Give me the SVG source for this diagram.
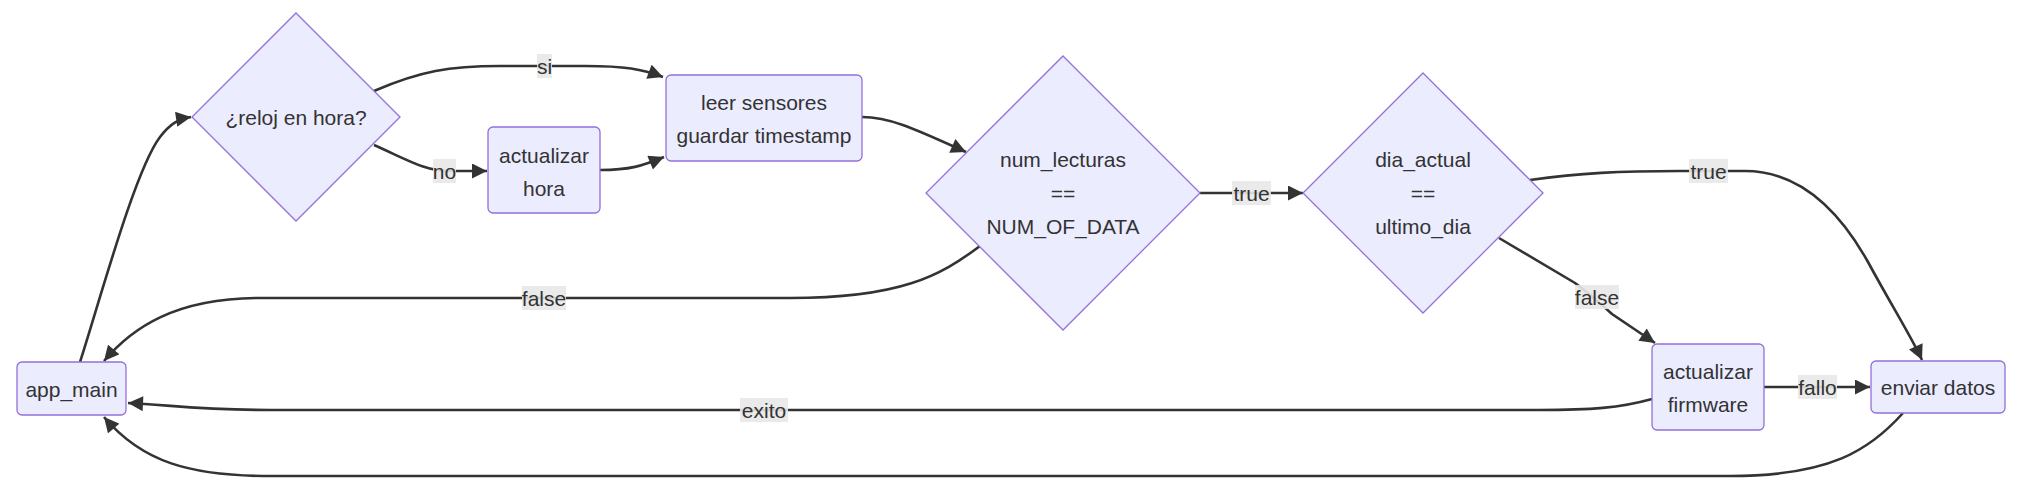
<svg xmlns="http://www.w3.org/2000/svg" width="2029" height="492" viewBox="0 0 2029 492">
<defs>
<marker id="arrow" viewBox="0 0 10 10" refX="10" refY="5" markerUnits="userSpaceOnUse" markerWidth="16" markerHeight="15" orient="auto">
<path d="M0,0 L10,5 L0,10 z" fill="#333333"/>
</marker>
<style>
.node rect, .node polygon { fill: #ECECFF; stroke: #9370DB; stroke-width: 1.3; }
.node text { font-family: "Liberation Sans", Arial, sans-serif; font-size: 21px; fill: #333333; text-anchor: middle; dominant-baseline: central; }
.edge { fill: none; stroke: #333333; stroke-width: 2.6; marker-end: url(#arrow); }
.lbl rect { fill: #e8e8e8; opacity: 0.9; }
.lbl text { font-family: "Liberation Sans", Arial, sans-serif; font-size: 21px; fill: #333333; text-anchor: middle; dominant-baseline: central; }
</style>
</defs>
<rect width="2029" height="492" fill="#ffffff"/>
<g id="connectors">
<path class="edge" d="M80,362 C100,300 135,170 160,137 C170,124 178,119 191,117"/>
<path class="edge" d="M374,91 C420,71 450,66 500,66 L585,66 C625,66 642,69 663,77"/>
<path class="edge" d="M374,145 C410,161 425,171 450,171 L487,171"/>
<path class="edge" d="M600,170 C630,170 642,166 664,157"/>
<path class="edge" d="M862,117 C890,117 915,129 966,152"/>
<path class="edge" d="M1200,193 L1303,193"/>
<path class="edge" d="M980,246 C940,276 900,298 790,298 L260,298 C175,298 132,328 104,361"/>
<path class="edge" d="M1530,180 C1580,173 1620,171 1680,171 L1745,171 C1800,171 1840,212 1868,262 C1893,308 1912,338 1922,360"/>
<path class="edge" d="M1499,238 L1575,283 C1590,294 1600,303 1612,314 L1655,343"/>
<path class="edge" d="M1764,387 L1870,387"/>
<path class="edge" d="M1652,399 C1620,408 1590,410 1540,410 L270,410 C200,410 170,405 128,403"/>
<path class="edge" d="M1903,413 C1870,450 1830,476 1730,476 L270,476 C190,476 142,462 104,417"/>
</g>
<g id="edge-labels">
<g class="lbl"><rect x="537" y="54" width="15" height="24"/><text x="544.5" y="66">si</text></g>
<g class="lbl"><rect x="433" y="159" width="23" height="24"/><text x="444.5" y="171">no</text></g>
<g class="lbl"><rect x="1232" y="181" width="39" height="24"/><text x="1251.5" y="193">true</text></g>
<g class="lbl"><rect x="522" y="286" width="44" height="24"/><text x="544" y="298">false</text></g>
<g class="lbl"><rect x="1689" y="159" width="39" height="24"/><text x="1708.5" y="171">true</text></g>
<g class="lbl"><rect x="1575" y="285" width="44" height="24"/><text x="1597" y="297">false</text></g>
<g class="lbl"><rect x="1798" y="375" width="39" height="24"/><text x="1817.5" y="387">fallo</text></g>
<g class="lbl"><rect x="740" y="398" width="48" height="24"/><text x="764" y="410">exito</text></g>
</g>
<g id="app_main" class="node"><rect x="17" y="362" width="109" height="53" rx="5"/><text x="71.5" y="389">app_main</text></g>
<g id="reloj" class="node"><polygon points="296,13 400,117 296,221 192,117"/><text x="296" y="117">¿reloj en hora?</text></g>
<g id="actualizar_hora" class="node"><rect x="488" y="127" width="112" height="86" rx="5"/><text x="544" y="155">actualizar</text><text x="544" y="188">hora</text></g>
<g id="leer_sensores" class="node"><rect x="666" y="75" width="196" height="86" rx="5"/><text x="764" y="102">leer sensores</text><text x="764" y="135">guardar timestamp</text></g>
<g id="num_lecturas" class="node"><polygon points="1063,56 1200,193 1063,330 926,193"/><text x="1063" y="159">num_lecturas</text><text x="1063" y="193">==</text><text x="1063" y="226">NUM_OF_DATA</text></g>
<g id="dia_actual" class="node"><polygon points="1423,73 1543,193 1423,313 1303,193"/><text x="1423" y="159">dia_actual</text><text x="1423" y="193">==</text><text x="1423" y="226">ultimo_dia</text></g>
<g id="actualizar_firmware" class="node"><rect x="1652" y="344" width="112" height="86" rx="5"/><text x="1708" y="371">actualizar</text><text x="1708" y="404">firmware</text></g>
<g id="enviar_datos" class="node"><rect x="1871" y="361" width="134" height="52" rx="5"/><text x="1938" y="387">enviar datos</text></g>
</svg>
